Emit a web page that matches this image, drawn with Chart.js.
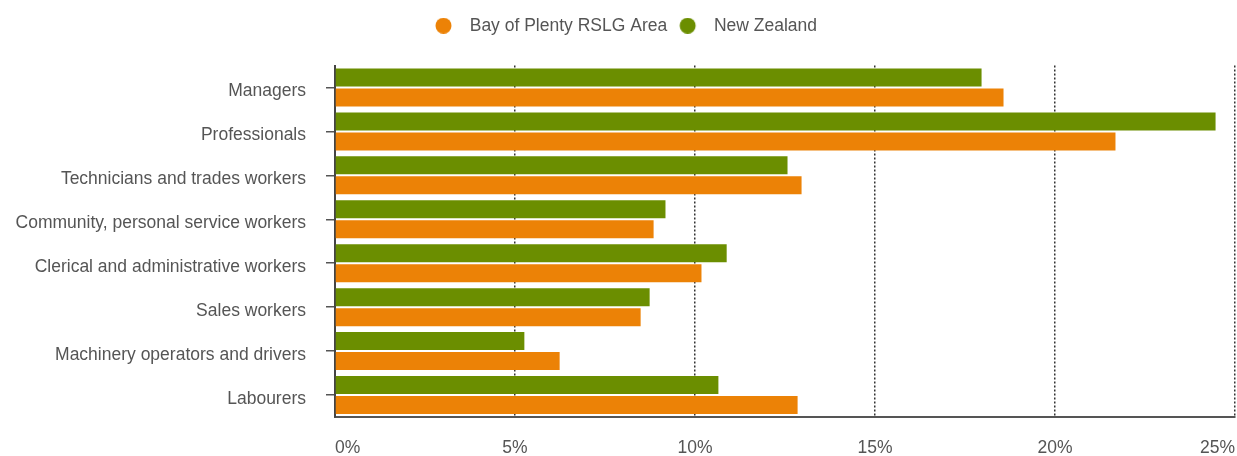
<!DOCTYPE html>
<html>
<head>
<meta charset="utf-8">
<script src="https://cdn.jsdelivr.net/npm/chart.js@4"></script>
<style>
  html, body { margin: 0; padding: 0; background: #fff; }
  #wrap { width: 1237px; height: 456px; }
</style>
</head>
<body>
<div id="wrap"><canvas id="grafico"></canvas></div>
<script>
// datos del gráfico (porcentaje de ocupados por ocupación)
const categorias = [
    'Managers',
    'Professionals',
    'Technicians and trades workers',
    'Community, personal service workers',
    'Clerical and administrative workers',
    'Sales workers',
    'Machinery operators and drivers',
    'Labourers'
];
const bayOfPlenty = [18.57, 21.68, 12.96, 8.85, 10.18, 8.49, 6.24, 12.85];
const nuevaZelanda = [17.96, 24.46, 12.57, 9.18, 10.88, 8.74, 5.26, 10.65];
const ticksX = [0, 5, 10, 15, 20, 25];

const colorTexto = '#555555';
const fuente = { family: '"Liberation Sans", Arial, sans-serif', size: 17.5 };

// círculo de la leyenda dibujado en un canvas más ancho (deja hueco hasta el texto)
function circuloLeyenda(color) {
    const c = document.createElement('canvas');
    c.width = 35;
    c.height = 16;
    const g = c.getContext('2d');
    g.fillStyle = color;
    g.beginPath();
    g.arc(17.5, 8, 8, 0, Math.PI * 2);
    g.fill();
    return c;
}

// espacio extra debajo de la leyenda y pequeño desplazamiento a la derecha
const margenLeyenda = {
    id: 'margenLeyenda',
    beforeInit(chart) {
        const fitOriginal = chart.legend.fit;
        chart.legend.fit = function () {
            fitOriginal.bind(chart.legend)();
            this.height += 21;
        };
    },
    afterLayout(chart) {
        chart.legend.left += 4;
        chart.legend.right += 4;
    }
};

const ctx = document.getElementById('grafico').getContext('2d');
const miGrafico = new Chart(ctx, {
    type: 'bar',
    data: {
        labels: categorias,
        datasets: [
            {
                label: 'New Zealand',
                data: nuevaZelanda,
                backgroundColor: '#6B8E00'
            },
            {
                label: 'Bay of Plenty RSLG Area',
                data: bayOfPlenty,
                backgroundColor: '#EC8206'
            }
        ]
    },
    options: {
        indexAxis: 'y',
        responsive: true,
        maintainAspectRatio: false,
        animation: false,
        categoryPercentage: 0.909,
        barPercentage: 0.9,
        layout: { padding: { top: 14, right: 2, left: 0, bottom: 0 } },
        plugins: {
            tooltip: { enabled: false },
            legend: {
                position: 'top',
                reverse: true,
                labels: {
                    usePointStyle: true,
                    pointStyleWidth: 35,
                    boxHeight: 11.3,
                    padding: 3,
                    color: colorTexto,
                    font: fuente,
                    generateLabels(chart) {
                        const items = Chart.defaults.plugins.legend.labels.generateLabels(chart);
                        items.forEach(item => {
                            item.pointStyle = circuloLeyenda(item.fillStyle);
                        });
                        return items;
                    }
                }
            }
        },
        scales: {
            x: {
                min: 0,
                max: 25,
                afterBuildTicks(scale) {
                    scale.ticks = ticksX.map(v => ({ value: v }));
                },
                afterFit(scale) {
                    scale.height = 39;
                    scale.paddingRight = 0;
                },
                ticks: {
                    align: 'inner',
                    padding: 21,
                    color: colorTexto,
                    font: fuente,
                    callback: v => v + '%'
                },
                grid: {
                    color: '#333333',
                    lineWidth: 1.5,
                    drawTicks: false
                },
                border: {
                    display: true,
                    color: '#555555',
                    width: 2,
                    dash: [2, 2]
                }
            },
            y: {
                afterFit(scale) {
                    scale.width = 335;
                },
                ticks: {
                    padding: 20,
                    labelOffset: 4,
                    color: colorTexto,
                    font: fuente
                },
                grid: {
                    offset: false,
                    drawOnChartArea: false,
                    drawTicks: true,
                    tickLength: 9,
                    color: '#555555',
                    lineWidth: 1.5
                },
                border: {
                    display: true,
                    color: '#444444',
                    width: 2
                }
            }
        }
    },
    plugins: [margenLeyenda]
});
</script>
</body>
</html>
